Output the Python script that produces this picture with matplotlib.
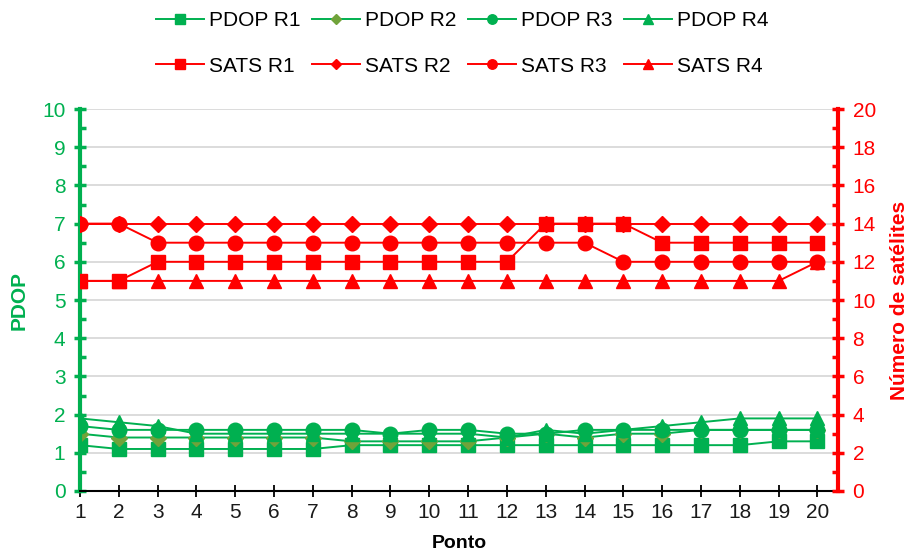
import matplotlib
matplotlib.use("Agg")
import matplotlib.pyplot as plt
from matplotlib.ticker import MultipleLocator

plt.rcParams['font.family'] = ['Liberation Sans', 'DejaVu Sans']

pontos = list(range(1, 21))

pdop_r1 = [1.2, 1.1, 1.1, 1.1, 1.1, 1.1, 1.1, 1.2, 1.2, 1.2, 1.2, 1.2, 1.2, 1.2, 1.2, 1.2, 1.2, 1.2, 1.3, 1.3]
pdop_r2 = [1.5, 1.4, 1.4, 1.4, 1.4, 1.4, 1.4, 1.3, 1.3, 1.3, 1.3, 1.4, 1.5, 1.4, 1.5, 1.5, 1.6, 1.6, 1.6, 1.6]
pdop_r3 = [1.7, 1.6, 1.6, 1.6, 1.6, 1.6, 1.6, 1.6, 1.5, 1.6, 1.6, 1.5, 1.5, 1.6, 1.6, 1.6, 1.6, 1.6, 1.6, 1.6]
pdop_r4 = [1.9, 1.8, 1.7, 1.5, 1.5, 1.5, 1.5, 1.5, 1.5, 1.5, 1.5, 1.4, 1.6, 1.5, 1.6, 1.7, 1.8, 1.9, 1.9, 1.9]

sats_r1 = [11, 11, 12, 12, 12, 12, 12, 12, 12, 12, 12, 12, 14, 14, 14, 13, 13, 13, 13, 13]
sats_r2 = [14, 14, 14, 14, 14, 14, 14, 14, 14, 14, 14, 14, 14, 14, 14, 14, 14, 14, 14, 14]
sats_r3 = [14, 14, 13, 13, 13, 13, 13, 13, 13, 13, 13, 13, 13, 13, 12, 12, 12, 12, 12, 12]
sats_r4 = [11, 11, 11, 11, 11, 11, 11, 11, 11, 11, 11, 11, 11, 11, 11, 11, 11, 11, 11, 12]

GREEN = '#00B050'
OLIVE = '#70A33A'
RED = '#FF0000'

fig = plt.figure(figsize=(9.08, 5.57), dpi=100)
ax = fig.add_axes([80/908, 1-491/557, (838-80)/908, (491-109)/557])
ax2 = ax.twinx()

lw = 1.4
h = []
h.append(ax.plot(pontos, pdop_r1, color=GREEN, lw=lw, marker='s', ms=10, mfc=GREEN, mec=GREEN, label='PDOP R1')[0])
h.append(ax.plot(pontos, pdop_r2, color=GREEN, lw=lw, marker='D', ms=8, mfc=OLIVE, mec=OLIVE, label='PDOP R2')[0])
h.append(ax.plot(pontos, pdop_r3, color=GREEN, lw=lw, marker='o', ms=10.5, mfc=GREEN, mec=GREEN, label='PDOP R3')[0])
h.append(ax.plot(pontos, pdop_r4, color=GREEN, lw=lw, marker='^', ms=10.5, mfc=GREEN, mec=GREEN, label='PDOP R4')[0])

s = []
s.append(ax2.plot(pontos, sats_r1, color=RED, lw=lw, marker='s', ms=10, label='SATS R1')[0])
s.append(ax2.plot(pontos, sats_r2, color=RED, lw=lw, marker='D', ms=8, label='SATS R2')[0])
s.append(ax2.plot(pontos, sats_r3, color=RED, lw=lw, marker='o', ms=10.5, label='SATS R3')[0])
s.append(ax2.plot(pontos, sats_r4, color=RED, lw=lw, marker='^', ms=10.5, label='SATS R4')[0])

ax.set_xlim(1, 20.53)
ax.set_ylim(0, 10)
ax2.set_ylim(0, 20)
ax.set_xticks(pontos)
ax.yaxis.set_major_locator(MultipleLocator(1))
ax.yaxis.set_minor_locator(MultipleLocator(0.5))
ax2.yaxis.set_major_locator(MultipleLocator(2))
ax2.yaxis.set_minor_locator(MultipleLocator(1))

ax.grid(axis='y', color='#D9D9D9', lw=1.3)
ax.set_axisbelow(True)

for a in (ax, ax2):
    a.spines['top'].set_visible(False)
    a.patch.set_visible(False)
ax2.spines['left'].set_visible(False)
ax2.spines['bottom'].set_visible(False)
ax.spines['right'].set_visible(False)
ax.spines['left'].set_color(GREEN)
ax.spines['left'].set_linewidth(3)
ax2.spines['right'].set_color(RED)
ax2.spines['right'].set_linewidth(3)
ax.spines['bottom'].set_color('black')
ax.spines['bottom'].set_linewidth(1.5)

FS = 15
ax.tick_params(axis='x', direction='inout', length=8, width=1.3, color='black',
               labelsize=FS, labelcolor='#1a1a1a', pad=5)
ax.tick_params(axis='y', which='major', direction='inout', length=9, width=2.5, color=GREEN,
               labelsize=FS, labelcolor=GREEN, pad=6)
ax.tick_params(axis='y', which='minor', direction='in', length=4, width=2.5, color=GREEN)
ax2.tick_params(axis='y', which='major', direction='inout', length=9, width=2.5, color=RED,
                labelsize=FS, labelcolor=RED, pad=6)
ax2.tick_params(axis='y', which='minor', direction='in', length=4, width=2.5, color=RED)

ax.set_xlabel('Ponto', fontsize=14, fontweight='bold', color='black', labelpad=9)
ax.set_ylabel('PDOP', fontsize=15, fontweight='bold', color=GREEN, labelpad=10)
ax2.set_ylabel('Número de satélites', fontsize=15, fontweight='bold', color=RED, labelpad=10)

handles = []
for a, b in zip(h, s):
    handles += [a, b]
leg = fig.legend(handles=handles, labels=[x.get_label() for x in handles], ncol=4,
                 loc='upper center', bbox_to_anchor=(462/908, 1.0), frameon=False,
                 fontsize=FS, handlelength=2.3, handletextpad=0.25, columnspacing=0.55,
                 labelspacing=1.25, markerscale=0.65, borderaxespad=0.15)

fig.savefig('out.png', dpi=100)
